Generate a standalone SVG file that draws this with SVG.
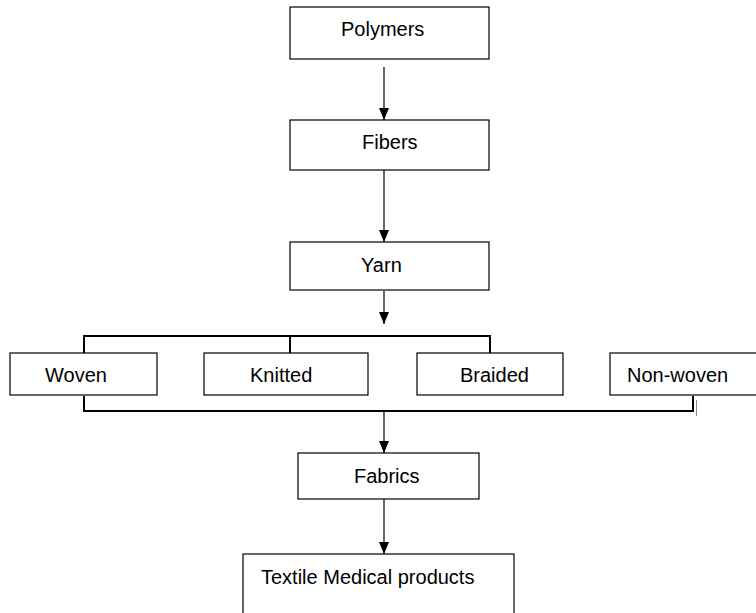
<svg xmlns="http://www.w3.org/2000/svg" width="756" height="613" viewBox="0 0 756 613">
<style>
.box{fill:#fff;stroke:#000;stroke-width:1.2}
.t{font-family:"Liberation Sans",Arial,sans-serif;font-size:20px;fill:#000}
.arr{stroke:#000;stroke-width:1.2;fill:none;marker-end:url(#ah)}
.br{stroke:#000;stroke-width:2;fill:none}
</style>
<defs>
<marker id="ah" markerWidth="12" markerHeight="10" refX="12" refY="5" orient="auto" markerUnits="userSpaceOnUse" viewBox="0 0 12 10">
<path d="M0,0 L12,5 L0,10 Z" fill="#000"/>
</marker>
</defs>
<rect width="756" height="613" fill="#fff"/>
<g id="connectors">
<line class="arr" x1="384" y1="67" x2="384" y2="120"/>
<line class="arr" x1="384" y1="170" x2="384" y2="242"/>
<line class="arr" x1="384" y1="291" x2="384" y2="324"/>
<polyline class="br" points="84,353 84,336 490,336 490,353"/>
<line class="br" x1="290" y1="336" x2="290" y2="353"/>
<polyline class="br" points="84,396 84,411 693,411 693,396"/>
<line x1="696.5" y1="400" x2="696.5" y2="416" stroke="#888" stroke-width="1"/>
<line class="arr" x1="384" y1="411" x2="384" y2="453"/>
<line class="arr" x1="384" y1="499" x2="384" y2="554"/>
</g>
<g id="polymers"><rect class="box" x="290" y="7" width="199" height="52"/><text class="t" x="341" y="36">Polymers</text></g>
<g id="fibers"><rect class="box" x="290" y="120" width="199" height="50"/><text class="t" x="362" y="149">Fibers</text></g>
<g id="yarn"><rect class="box" x="290" y="242" width="199" height="48"/><text class="t" x="361" y="272">Yarn</text></g>
<g id="woven"><rect class="box" x="10" y="353" width="147" height="42"/><text class="t" x="45" y="382">Woven</text></g>
<g id="knitted"><rect class="box" x="204" y="353" width="164" height="42"/><text class="t" x="250" y="382">Knitted</text></g>
<g id="braided"><rect class="box" x="417" y="353" width="146" height="42"/><text class="t" x="460" y="382">Braided</text></g>
<g id="nonwoven"><rect class="box" x="610" y="353" width="150" height="42"/><text class="t" x="627" y="382">Non-woven</text></g>
<g id="fabrics"><rect class="box" x="298" y="453" width="181" height="46"/><text class="t" x="354" y="483">Fabrics</text></g>
<g id="textile"><rect class="box" x="243" y="554" width="271" height="70"/><text class="t" x="261" y="584">Textile Medical products</text></g>
</svg>
